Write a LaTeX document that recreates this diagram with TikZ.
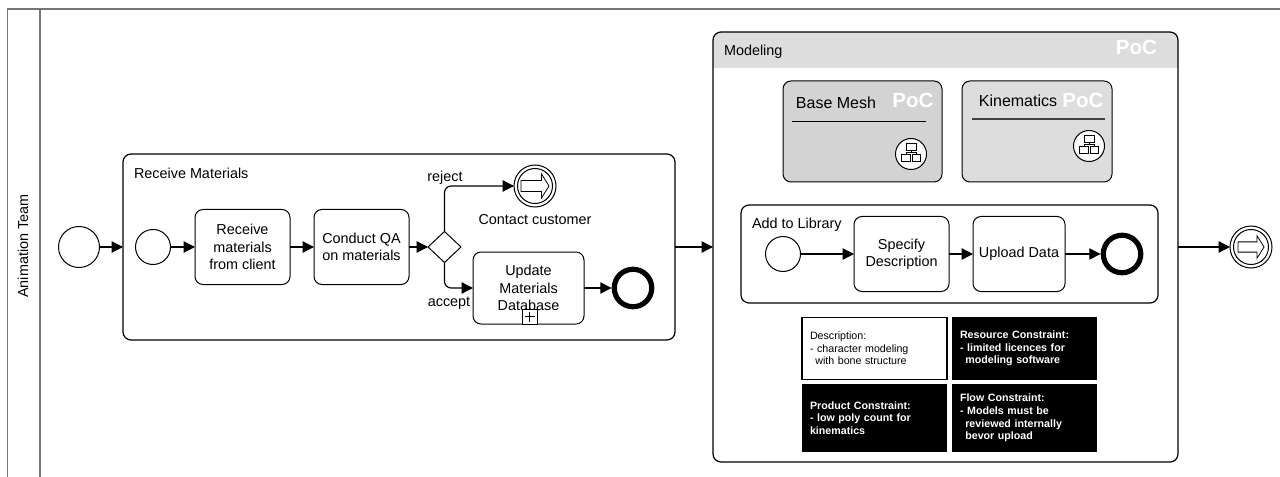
\documentclass[tikz,border=0pt]{standalone}
\usepackage{fontspec}
\setmainfont{Liberation Sans}
\usetikzlibrary{arrows.meta,shapes.geometric}
\definecolor{poolgray}{HTML}{777777}
\definecolor{headgray}{HTML}{DDDDDD}
\definecolor{meshgray}{HTML}{D3D3D3}
\tikzset{
  base/.style={font=\fontsize{10.8}{13}\selectfont,align=center,inner sep=0pt,outer sep=0pt},
  lbl/.style={base,anchor=west},
  calllbl/.style={base,font=\fontsize{12}{14}\selectfont},
  task/.style={base,draw,line width=0.75pt,rounded corners=6pt},
  proc/.style={base,draw,line width=0.9pt,rounded corners=6pt},
  startev/.style={base,draw,circle,line width=0.75pt,fill=white},
  endev/.style={base,draw,circle,outer sep=2pt,line width=3.9pt,minimum size=37.5*0.75pt},
  gate/.style={base,draw,diamond,line width=0.75pt,minimum width=33*0.75pt,minimum height=31*0.75pt},
  flow/.style={line width=0.9pt,-{Triangle[length=8.5pt,width=8.5pt]}},
  poc/.style={base,font=\fontsize{15.4}{16}\selectfont\bfseries,text=white},
  note/.style={base,align=left,font=\fontsize{8}{9.5}\selectfont,text width=129*0.75pt,
    minimum width=145*0.75pt,inner xsep=8*0.75pt},
  blacknote/.style={note,fill=black,text=white,font=\fontsize{8}{9.5}\selectfont\bfseries},
  netcall/.pic={
    \draw[line width=0.6pt] (-4.5,11) rectangle (5,3.5);
    \draw[line width=0.6pt] (0.25,3.5) -- (0.25,1.5) (-5,1.5) -- (5,1.5) (-5,1.5) -- (-5,0) (5,1.5) -- (5,0);
    \draw[line width=0.6pt] (-9.5,0) rectangle (-0.2,-7.5);
    \draw[line width=0.6pt] (1,0) rectangle (9.7,-7.5);
  },
  linkarrow/.pic={
    \draw[line width=0.6pt] (-14,-5.5) -- (6.5,-5.5) -- (6.5,-12) -- (14,0) -- (6.5,12) -- (6.5,5.5) -- (-14,5.5) -- cycle;
  }
}
\begin{document}
\begin{tikzpicture}[x=0.75pt,y=0.75pt,yscale=-1,xscale=1]
\useasboundingbox (0,0) rectangle (1280,477);

%Pool
\draw[poolgray,line width=1.1pt] (7.5,477) -- (7.5,9) -- (1280,9);
\draw[poolgray,line width=1.1pt] (40,9) -- (40,477);
\node[base,rotate=90] (pool) at (23,246) {Animation Team};

%Header of the modeling block
\fill[headgray] (713,68) [rounded corners=6pt] -- (713,32) -- (1178,32) [sharp corners] -- (1178,68) -- cycle;

%Outer flow
\node[startev,minimum size=41*0.75pt] (start) at (79,247) {};
\node[proc,minimum width=552*0.75pt,minimum height=186*0.75pt] (procrcv) at (399,247) {};
\node[proc,minimum width=465*0.75pt,minimum height=430*0.75pt] (procmodel) at (945.5,247) {};
\node[startev,minimum size=42*0.75pt] (finish) at (1251,247) {};
\node[startev,minimum size=35*0.75pt] (finishin) at (1251,247) {};
\pic[scale=0.93] at (1251,247) {linkarrow};

%Receive Materials
\node[startev,minimum size=35*0.75pt] (rcvstart) at (153,247) {};
\node[task,minimum width=95*0.75pt,minimum height=75*0.75pt] (rcvtask) at (242.5,247) {Receive\\materials\\from client};
\node[task,minimum width=95*0.75pt,minimum height=75*0.75pt] (qatask) at (361.5,247) {Conduct QA\\on materials};
\node[gate] (gw) at (444.5,247) {};
\node[startev,minimum size=42*0.75pt] (contact) at (535,186) {};
\node[startev,minimum size=35*0.75pt] (contactin) at (535,186) {};
\pic at (535,186) {linkarrow};
\node[task,minimum width=111*0.75pt,minimum height=72*0.75pt] (update) at (528.5,288) {Update\\Materials\\Database};
\node[draw,fill=white,line width=0.75pt,inner sep=0pt,outer sep=0pt,minimum size=15*0.75pt] (plus) at (529.5,316.5) {};
\draw[line width=1.3pt] (plus.center) +(-5,0) -- +(5,0) (plus.center) +(0,-5) -- +(0,5);
\node[endev] (rcvend) at (633,288) {};

%Add to Library
\node[proc,minimum width=417*0.75pt,minimum height=98*0.75pt] (proclib) at (949.5,254) {};
\node[startev,minimum size=35*0.75pt] (libstart) at (783,254) {};
\node[task,minimum width=95*0.75pt,minimum height=75*0.75pt] (spectask) at (901.5,254) {Specify\\Description};
\node[task,minimum width=92*0.75pt,minimum height=75*0.75pt] (uploadtask) at (1019,254) {Upload Data};
\node[endev] (libend) at (1122,254) {};

%Collapsed calls
\node[task,fill=meshgray,minimum width=159*0.75pt,minimum height=101*0.75pt] (mesh) at (862.5,131.5) {};
\node[task,fill=headgray,minimum width=150*0.75pt,minimum height=101*0.75pt] (kin) at (1037,131.5) {};
\draw[line width=0.75pt] (792,122) -- (926,122);
\draw[line width=0.9pt,black!75] (972,119) -- (1105,119);
\node[startev,minimum size=31*0.75pt] (meshicon) at (911,154) {};
\pic at (911,154) {netcall};
\node[startev,minimum size=31*0.75pt] (kinicon) at (1089,146) {};
\pic at (1089,146) {netcall};

%Notes
\node[note,draw,line width=0.9pt,minimum height=62*0.75pt] (descnote) at (874.5,348.5) {Description:\\- character modeling\\\hspace*{4pt}with bone structure};
\node[blacknote,minimum height=63*0.75pt] (resnote) at (1024.5,348.5) {Resource Constraint:\\- limited licences for\\\hspace*{4pt}modeling software};
\node[blacknote,minimum height=68*0.75pt] (prodnote) at (874.5,418) {Product Constraint:\\- low poly count for\\kinematics};
\node[blacknote,minimum height=68*0.75pt] (flownote) at (1024.5,418) {Flow Constraint:\\- Models must be\\\hspace*{4pt}reviewed internally\\\hspace*{4pt}bevor upload};

%Connectors
\draw[flow] (start.east) -- (procrcv.west);
\draw[flow] (rcvstart.east) -- (rcvtask.west);
\draw[flow] (rcvtask.east) -- (qatask.west);
\draw[flow] (qatask.east) -- (gw.west);
\draw[flow,rounded corners=5pt] (gw.north) |- (contact.west);
\draw[flow,rounded corners=5pt] (gw.south) |- (update.west);
\draw[flow] (update.east) -- (rcvend.west);
\draw[flow] (procrcv.east) -- (procmodel.west);
\draw[flow] (procmodel.east) -- (finish.west);
\draw[flow] (libstart.east) -- (spectask.west);
\draw[flow] (spectask.east) -- (uploadtask.west);
\draw[flow] (uploadtask.east) -- (libend.west);

% Text Node
\node[lbl] (rcvlabel) at (134,173) {Receive Materials};
\node[base] (rejectlabel) at (445,177.5) {reject};
\node[base] (acceptlabel) at (449,303) {accept};
\node[base] (contactlabel) at (535,220) {Contact customer};
\node[lbl] (modellabel) at (724,52) {Modeling};
\node[lbl] (liblabel) at (752,225) {Add to Library};
\node[calllbl] (meshlabel) at (836,103) {Base Mesh};
\node[calllbl] (kinlabel) at (1018,101) {Kinematics};
\node[poc] (pocmodel) at (1136.5,47.5) {PoC};
\node[poc] (pocmesh) at (913,100) {PoC};
\node[poc] (pockin) at (1083,100) {PoC};

\end{tikzpicture}
\end{document}
